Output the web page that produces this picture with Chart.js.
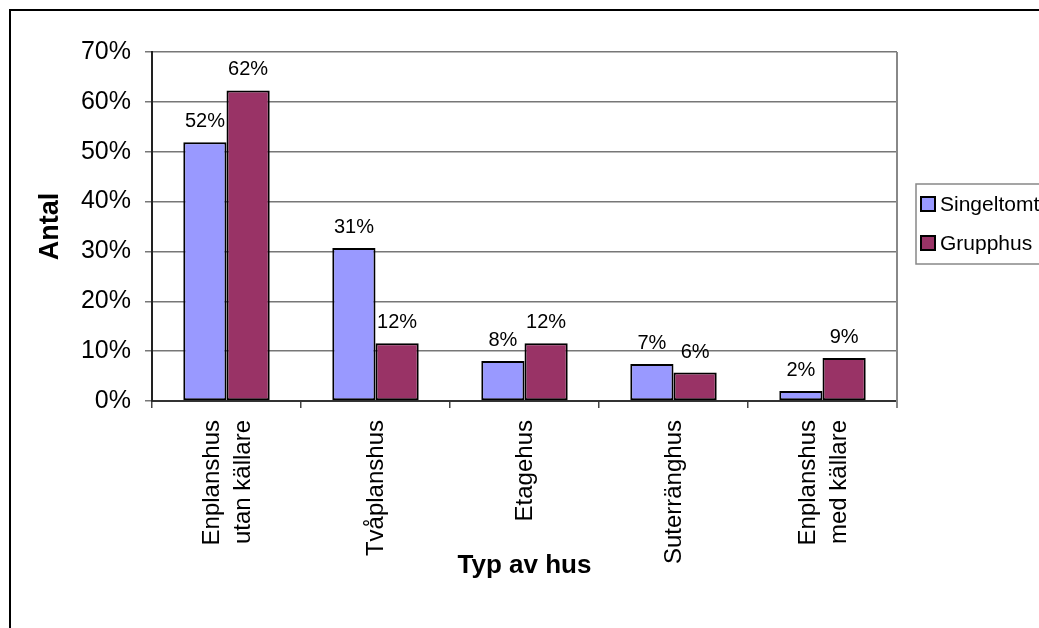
<!DOCTYPE html>
<html>
<head>
<meta charset="utf-8">
<script src="https://cdn.jsdelivr.net/npm/chart.js@4/dist/chart.umd.min.js"></script>
<style>
    body { margin: 0; background: #fff; }
    #wrap { width: 1039px; height: 628px; }
</style>
</head>
<body>
<div id="wrap"><canvas id="chart" width="1039" height="628"></canvas></div>
<script>
    "use strict";

    // Data
    var categories = [["Enplanshus", "utan källare"], "Tvåplanshus", "Etagehus", "Suterränghus", ["Enplanshus", "med källare"]];
    var seriesNames = ["Singeltomt", "Grupphus"];
    var singeltomt = [51.9, 30.7, 8.0, 7.4, 2.0];
    var grupphus = [62.3, 11.6, 11.6, 5.7, 8.6];
    var yMax = 70;
    var yStep = 10;

    var colors = ["#9999FF", "#993366"];
    var fontFamily = "'Liberation Sans', Arial, sans-serif";

    Chart.defaults.font.family = fontFamily;
    Chart.defaults.color = "#000";

    // Frame, plot border, category labels, data labels and legend box
    var decorations = {
        id: "decorations",
        beforeDraw: function (chart) {
            var ctx = chart.ctx;
            ctx.save();
            ctx.fillStyle = "#fff";
            ctx.fillRect(0, 0, chart.width, chart.height);
            ctx.strokeStyle = "#000";
            ctx.lineWidth = 2;
            ctx.strokeRect(10, 10, chart.width + 20, chart.height + 20);
            ctx.restore();
        },
        afterDatasetsDraw: function (chart) {
            var ctx = chart.ctx;
            var area = chart.chartArea;
            var xScale = chart.scales.x;
            ctx.save();
            ctx.strokeStyle = "#888";
            ctx.lineWidth = 2;
            ctx.beginPath();
            ctx.moveTo(area.right, area.top);
            ctx.lineTo(area.right, area.bottom + 7);
            ctx.stroke();

            // category labels, rotated and centred on the category
            ctx.fillStyle = "#000";
            ctx.font = "24px " + fontFamily;
            ctx.textAlign = "right";
            ctx.textBaseline = "middle";
            chart.data.labels.forEach(function (lbl, i) {
                var lines = Array.isArray(lbl) ? lbl : [lbl];
                var x = xScale.getPixelForTick(i);
                ctx.save();
                ctx.translate(x, area.bottom + 19);
                ctx.rotate(-Math.PI / 2);
                lines.forEach(function (line, j) {
                    ctx.fillText(line, 0, (j - (lines.length - 1) / 2) * 31 + 1);
                });
                ctx.restore();
            });

            // value labels
            ctx.font = "20px " + fontFamily;
            ctx.textAlign = "center";
            ctx.textBaseline = "alphabetic";
            chart.data.datasets.forEach(function (ds, i) {
                chart.getDatasetMeta(i).data.forEach(function (bar, j) {
                    ctx.fillText(Math.round(ds.data[j]) + "%", bar.x, bar.y - 15);
                });
            });

            // legend
            ctx.strokeStyle = "#888";
            ctx.lineWidth = 1.5;
            ctx.strokeRect(916, 184, 200, 80);
            ctx.textAlign = "left";
            ctx.textBaseline = "middle";
            ctx.font = "21px " + fontFamily;
            seriesNames.forEach(function (name, i) {
                var y = 204 + i * 39;
                ctx.fillStyle = colors[i];
                ctx.fillRect(921, y - 7, 14, 14);
                ctx.strokeStyle = "#000";
                ctx.lineWidth = 2;
                ctx.strokeRect(921, y - 7, 14, 14);
                ctx.fillStyle = "#000";
                ctx.fillText(name, 940, y + 1);
            });
            ctx.restore();
        }
    };

    var ctx = document.getElementById("chart").getContext("2d");
    var myChart = new Chart(ctx, {
        type: "bar",
        data: {
            labels: categories,
            datasets: [{
                label: seriesNames[0],
                data: singeltomt,
                backgroundColor: colors[0],
                borderColor: "#000",
                borderWidth: 2,
                borderSkipped: false
            },
            {
                label: seriesNames[1],
                data: grupphus,
                backgroundColor: colors[1],
                borderColor: "#000",
                borderWidth: 2,
                borderSkipped: false
            }]
        },
        options: {
            responsive: false,
            animation: false,
            devicePixelRatio: 1,
            categoryPercentage: 0.58,
            barPercentage: 1.0,
            layout: {
                padding: { left: 0, top: 52, right: 142, bottom: 0 }
            },
            plugins: {
                legend: { display: false },
                tooltip: { enabled: false }
            },
            scales: {
                x: {
                    offset: true,
                    grid: {
                        offset: true,
                        drawOnChartArea: false,
                        drawTicks: true,
                        tickLength: 7,
                        color: "#444",
                        lineWidth: 1.5
                    },
                    border: { color: "#333", width: 2 },
                    ticks: { display: false },
                    title: {
                        display: true,
                        text: "Typ av hus",
                        font: { size: 26, weight: "bold" },
                        color: "#000",
                        padding: { top: 4, bottom: 47 }
                    },
                    afterFit: function (scale) {
                        scale.height = 227;
                    }
                },
                y: {
                    min: 0,
                    max: yMax,
                    ticks: {
                        stepSize: yStep,
                        padding: 14,
                        font: { size: 25 },
                        color: "#000",
                        callback: function (v) { return v + "%"; }
                    },
                    grid: {
                        color: "#777",
                        lineWidth: 1.5,
                        tickLength: 7
                    },
                    border: { color: "#222", width: 2 },
                    title: {
                        display: true,
                        text: "Antal",
                        font: { size: 27, weight: "bold" },
                        color: "#000",
                        padding: { top: 34, bottom: 4 }
                    },
                    afterFit: function (scale) {
                        scale.width = 152;
                    }
                }
            }
        },
        plugins: [decorations]
    });
</script>
</body>
</html>
